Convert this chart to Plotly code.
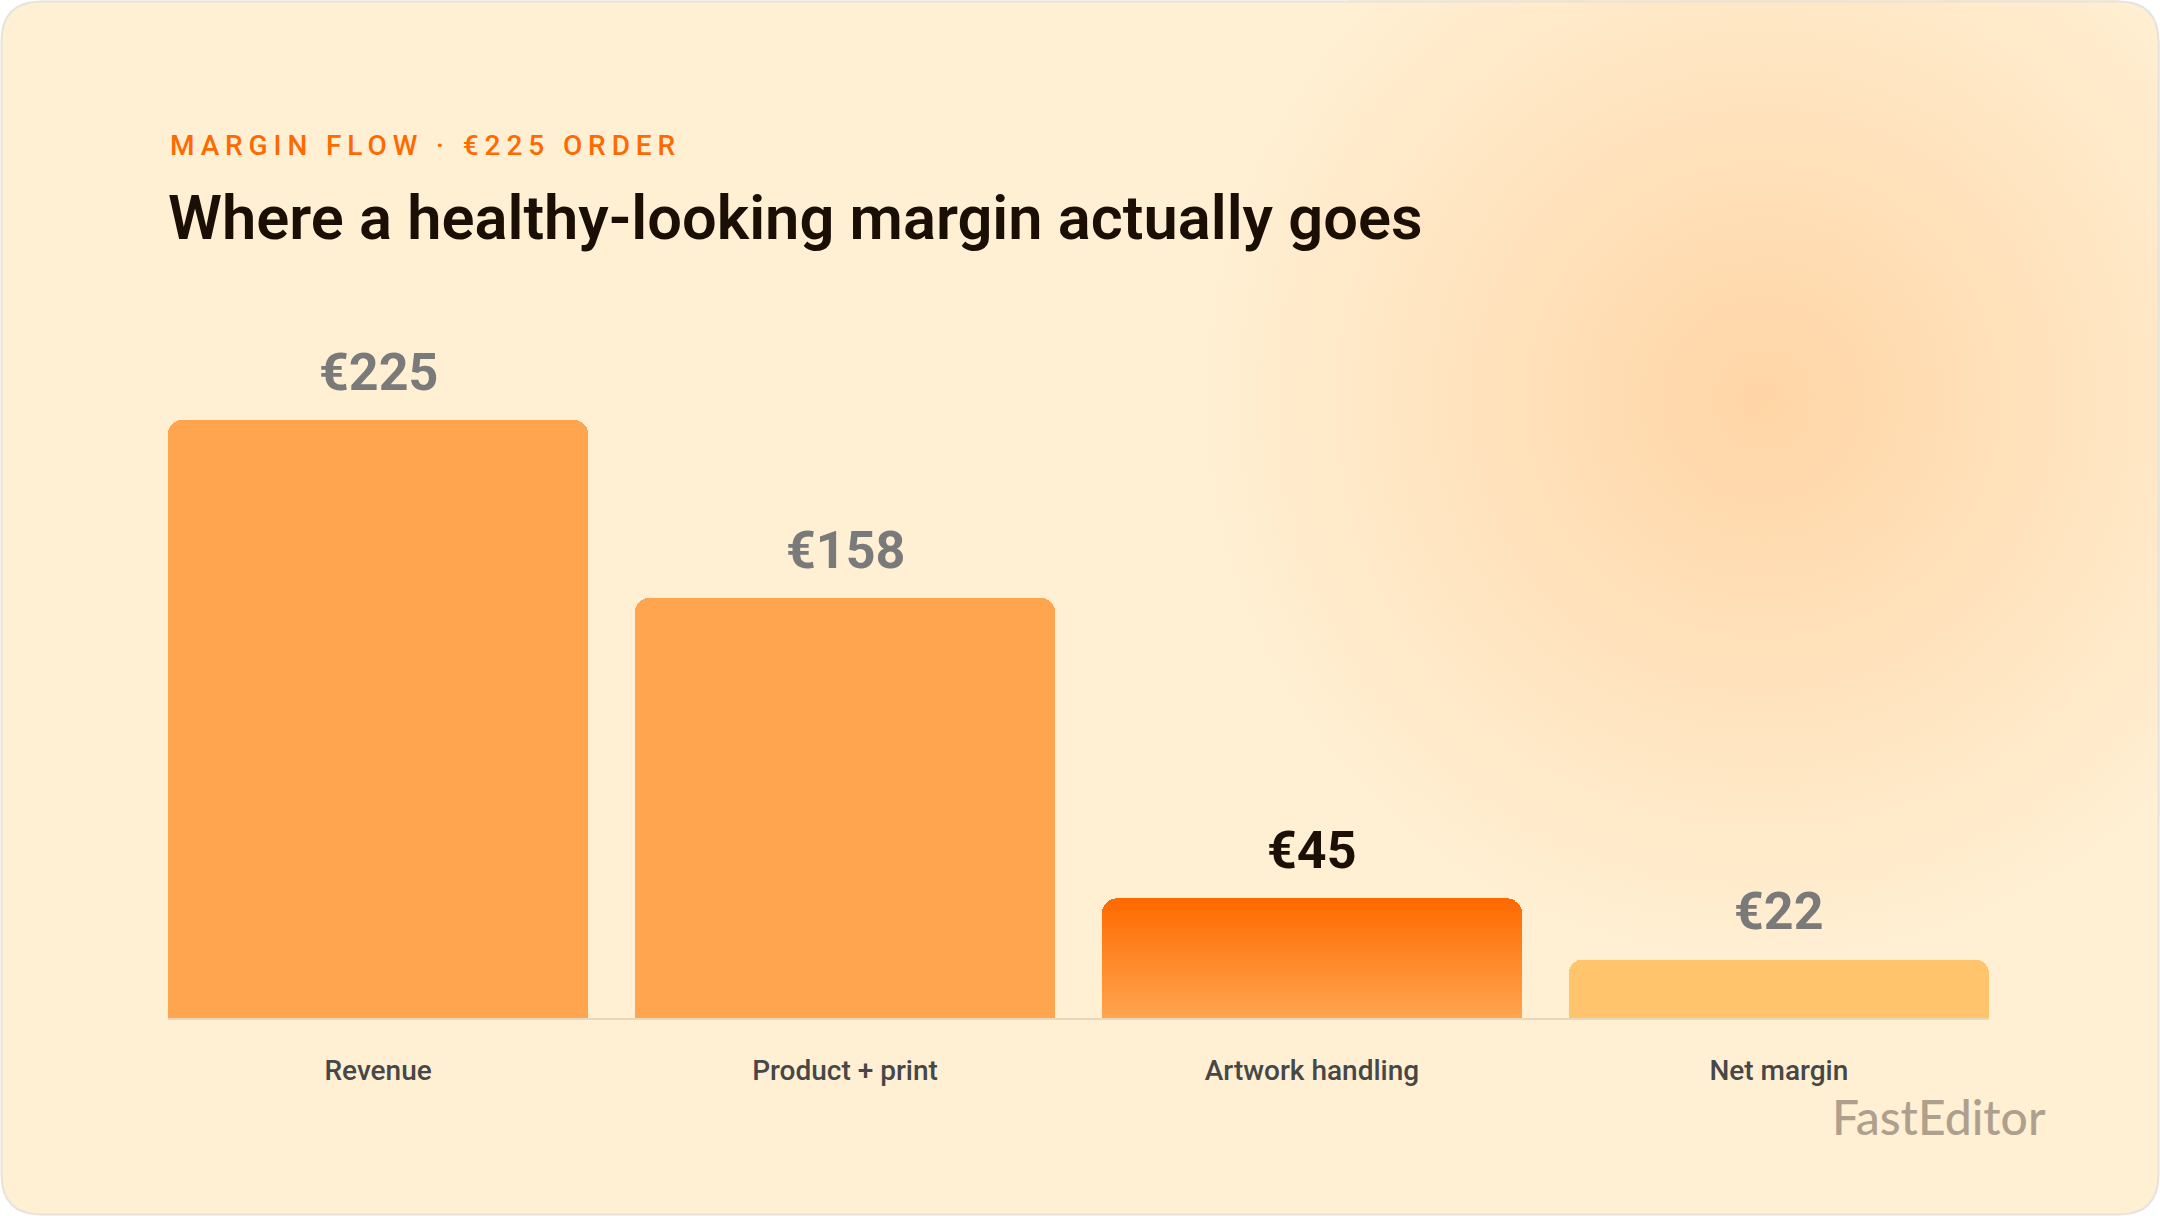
import plotly.graph_objects as go

# ---- data ----
categories = ["Revenue", "Product + print", "Artwork handling", "Net margin"]
values = [225, 158, 45, 22]
highlight = "Artwork handling"
subtitle = "MARGIN FLOW · €225 ORDER"
title = "Where a healthy-looking margin actually goes"
brand = "FastEditor"

# ---- style ----
W, H = 2160, 1216
BG = "#FFF0D4"
GLOW = "#FFD5A6"
BAR = "#FFA44F"
NET = "#FFC46C"
GRAD_TOP = (255, 106, 0)
GRAD_BOT = (255, 164, 79)
bar_colors = {"Revenue": BAR, "Product + print": BAR, "Net margin": NET}

x0_px, x1_px = 168, 1989
base_px, top_px = 1018, 300
px_per_unit = (base_px - 420) / values[0]
ymax = (base_px - top_px) / px_per_unit

fig = go.Figure()

# background glow (decorative) on full-figure overlay axes
fig.add_trace(go.Scatter(
    x=[1763], y=[H - 400], mode="markers", hoverinfo="skip", showlegend=False,
    cliponaxis=False,
    marker=dict(size=1150, color=BG, line=dict(width=0),
                gradient=dict(type="radial", color=GLOW)),
    xaxis="x", yaxis="y",
))

# regular bars
others = [c for c in categories if c != highlight]
fig.add_trace(go.Bar(
    x=others, y=[values[categories.index(c)] for c in others],
    marker=dict(color=[bar_colors[c] for c in others], line=dict(width=0)),
    hoverinfo="skip", showlegend=False, xaxis="x2", yaxis="y2",
))

# highlighted bar with vertical gradient, built from stacked slices
N = 40
hv = values[categories.index(highlight)]
for i in range(N):
    t = i / (N - 1)
    r = round(GRAD_BOT[0] + (GRAD_TOP[0] - GRAD_BOT[0]) * t)
    g = round(GRAD_BOT[1] + (GRAD_TOP[1] - GRAD_BOT[1]) * t)
    b = round(GRAD_BOT[2] + (GRAD_TOP[2] - GRAD_BOT[2]) * t)
    fig.add_trace(go.Bar(
        x=[highlight], y=[hv / N],
        marker=dict(color=f"rgb({r},{g},{b})", line=dict(width=0)),
        hoverinfo="skip", showlegend=False, xaxis="x2", yaxis="y2",
    ))

annotations = []
for c, v in zip(categories, values):
    annotations.append(dict(
        x=c, y=v, xref="x2", yref="y2", text=f"€{v}", showarrow=False,
        yanchor="middle", yshift=48,
        font=dict(family="Roboto", size=52, weight=700,
                  color="#1C0F05" if c == highlight else "#7A7A7A"),
    ))

annotations += [
    dict(x=168 / W, y=1 - 145 / H, xref="paper", yref="paper", xanchor="left", yanchor="middle",
         text=f'<span style="letter-spacing:5.9px">{subtitle}</span>', showarrow=False,
         font=dict(family="Roboto", size=28, weight=500, color="#FF6A00")),
    dict(x=166 / W, y=1 - 218 / H, xref="paper", yref="paper", xanchor="left", yanchor="middle",
         text=title, showarrow=False,
         font=dict(family="Roboto", size=61.4, weight=600, color="#1A0E05")),
    dict(x=2048 / W, y=1 - 1116 / H, xref="paper", yref="paper", xanchor="right", yanchor="middle",
         text=brand, showarrow=False,
         font=dict(family="Lato", size=48, weight=500, color="#AEA08D")),
]

# card with rounded corners
rx, ry = 40 / W, 40 / H
a, b_, c_, d = 1.5 / W, 1.5 / H, 1 - 1.5 / W, 1 - 1.5 / H
card_path = (f"M {a+rx},{b_} L {c_-rx},{b_} Q {c_},{b_} {c_},{b_+ry} "
             f"L {c_},{d-ry} Q {c_},{d} {c_-rx},{d} L {a+rx},{d} Q {a},{d} {a},{d-ry} "
             f"L {a},{b_+ry} Q {a},{b_} {a+rx},{b_} Z")
# outer corner pieces (outside the rounded card), drawn above the glow
corners = [
    f"M 1,1 L {c_-rx},1 L {c_-rx},{d} Q {c_},{d} {c_},{d-ry} L 1,{d-ry} Z",
    f"M 1,0 L 1,{b_+ry} L {c_},{b_+ry} Q {c_},{b_} {c_-rx},{b_} L {c_-rx},0 Z",
]
shapes = [dict(type="path", path=card_path, xref="paper", yref="paper",
               fillcolor=BG, line=dict(width=0), layer="below")]
shapes += [dict(type="path", path=p, xref="paper", yref="paper",
                fillcolor="#FFFFFF", line=dict(width=0), layer="above") for p in corners]
shapes.append(dict(type="path", path=card_path, xref="paper", yref="paper",
                   fillcolor="rgba(0,0,0,0)", line=dict(color="#E6E3DE", width=2), layer="above"))

fig.update_layout(
    width=W, height=H, margin=dict(l=0, r=0, t=0, b=0),
    paper_bgcolor="#FFFFFF", plot_bgcolor="rgba(0,0,0,0)",
    barmode="stack", bargap=0.1, barcornerradius=14,
    showlegend=False, annotations=annotations, shapes=shapes,
    xaxis=dict(domain=[0, 1], range=[0, W], visible=False, fixedrange=True),
    yaxis=dict(domain=[0, 1], range=[0, H], visible=False, fixedrange=True),
    xaxis2=dict(domain=[x0_px / W, x1_px / W], anchor="y2", type="category",
                categoryorder="array", categoryarray=categories,
                range=[-0.45, len(categories) - 0.55],
                showline=True, linecolor="#E8D7B8", linewidth=2, ticks="",
                showgrid=False, zeroline=False, ticklabelstandoff=26,
                tickfont=dict(family="Roboto", size=28, weight=500, color="#474747")),
    yaxis2=dict(domain=[1 - base_px / H, 1 - top_px / H], anchor="x2",
                range=[0, ymax], visible=False, showgrid=False, zeroline=False),
)

fig.write_html("out.html")
